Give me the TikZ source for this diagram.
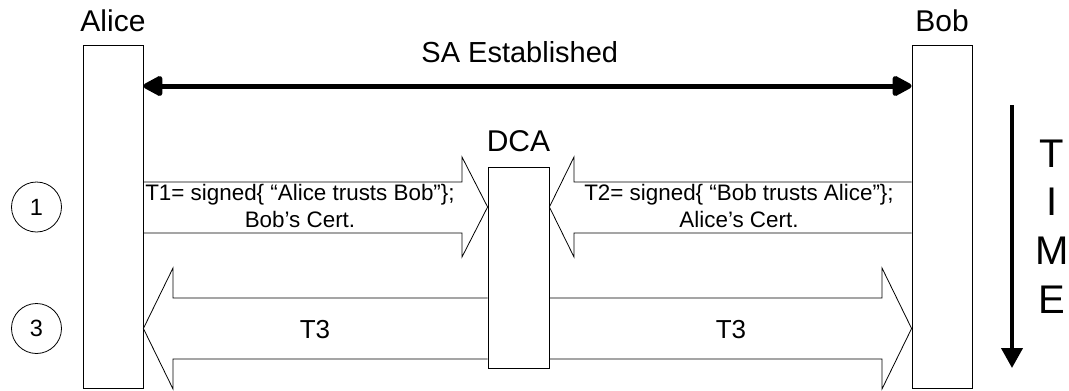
\documentclass[tikz,border=0pt]{standalone}
\usepackage{fontspec}
\setmainfont{Liberation Sans}
\usetikzlibrary{arrows.meta,positioning,calc}

\begin{document}
\begin{tikzpicture}[x=1pt, y=-1pt,
    lifeline/.style={draw, line width=0.8pt, minimum width=60pt, minimum height=343pt, inner sep=0pt},
    dcabox/.style={draw, line width=0.8pt, minimum width=61pt, minimum height=201pt, inner sep=0pt},
    actor/.style={inner sep=0pt, font=\fontsize{30}{36}\selectfont},
    sa/.style={line width=5pt, {Triangle[length=22pt,width=22pt,round]}-{Triangle[length=22pt,width=22pt,round]}},
    blockarrow/.style={draw, line width=0.8pt, line join=miter},
    msg/.style={align=center, inner sep=0pt, font=\fontsize{22.4}{27}\selectfont},
    tlabel/.style={inner sep=0pt, font=\fontsize{26}{31}\selectfont},
    stepno/.style={circle, draw, line width=0.8pt, minimum size=50pt, inner sep=0pt, font=\fontsize{23.5}{28}\selectfont},
    timearrow/.style={line width=4pt, -{Triangle[length=20pt,width=21pt]}},
    timeletter/.style={anchor=base, inner sep=0pt, font=\fontsize{40}{48}\selectfont}
  ]
    \useasboundingbox (0,0) rectangle (1069,391);

    % Teilnehmer
    \node[lifeline] (alice) at (113,216.5) {};
    \node[lifeline] (bob) at (942,216.5) {};
    \node[dcabox] (dca) at (518.5,267.5) {};

    \node[actor, above=13pt of alice] (alicelbl) {Alice};
    \node[actor, above=13pt of bob] (boblbl) {Bob};
    \node[actor, above=15pt of dca] (dcalbl) {DCA};

    % SA
    \draw[sa] (alice.east |- 0,86) -- (bob.west |- 0,86)
      node[pos=0.49, above=21pt, inner sep=0pt, font=\fontsize{29}{35}\selectfont] (salbl) {SA Established};

    % Schritt 1
    \draw[blockarrow] (alice.east |- 0,182) -- (462,182) -- (462,157) -- (dca.west |- 0,207)
      -- (462,257) -- (462,233) -- (alice.east |- 0,233);
    \draw[blockarrow] (bob.west |- 0,182) -- (574,182) -- (574,157) -- (dca.east |- 0,207)
      -- (574,257) -- (574,233) -- (bob.west |- 0,233);
    \node[msg] (t1) at (300,205.5) {T1= signed\{ “Alice trusts Bob”\};\\Bob’s Cert.};
    \node[msg] (t2) at (739,205.5) {T2= signed\{ “Bob trusts Alice”\};\\Alice’s Cert.};

    % Schritt 3
    \draw[blockarrow] (dca.west |- 0,298) -- (173,298) -- (173,268) -- (alice.east |- 0,328.5)
      -- (173,389) -- (173,359) -- (dca.west |- 0,359);
    \draw[blockarrow] (dca.east |- 0,298) -- (882,298) -- (882,268) -- (bob.west |- 0,328.5)
      -- (882,389) -- (882,359) -- (dca.east |- 0,359);
    \node[tlabel] (t3a) at (315,330) {T3};
    \node[tlabel] (t3b) at (731,330) {T3};

    % Schrittnummern
    \node[stepno] (s1) at (36.5,207) {1};
    \node[stepno] (s3) at (36.5,328.5) {3};

    % Zeitachse
    \coordinate (tstart) at (1012,105);
    \coordinate (tend) at (1012,368);
    \draw[timearrow] (tstart) -- (tend);
    \foreach \l [count=\i from 0] in {T,I,M,E}
      \node[timeletter] (time\l) at (1052,{167+48.7*\i}) {\l};
  \end{tikzpicture}
\end{document}
